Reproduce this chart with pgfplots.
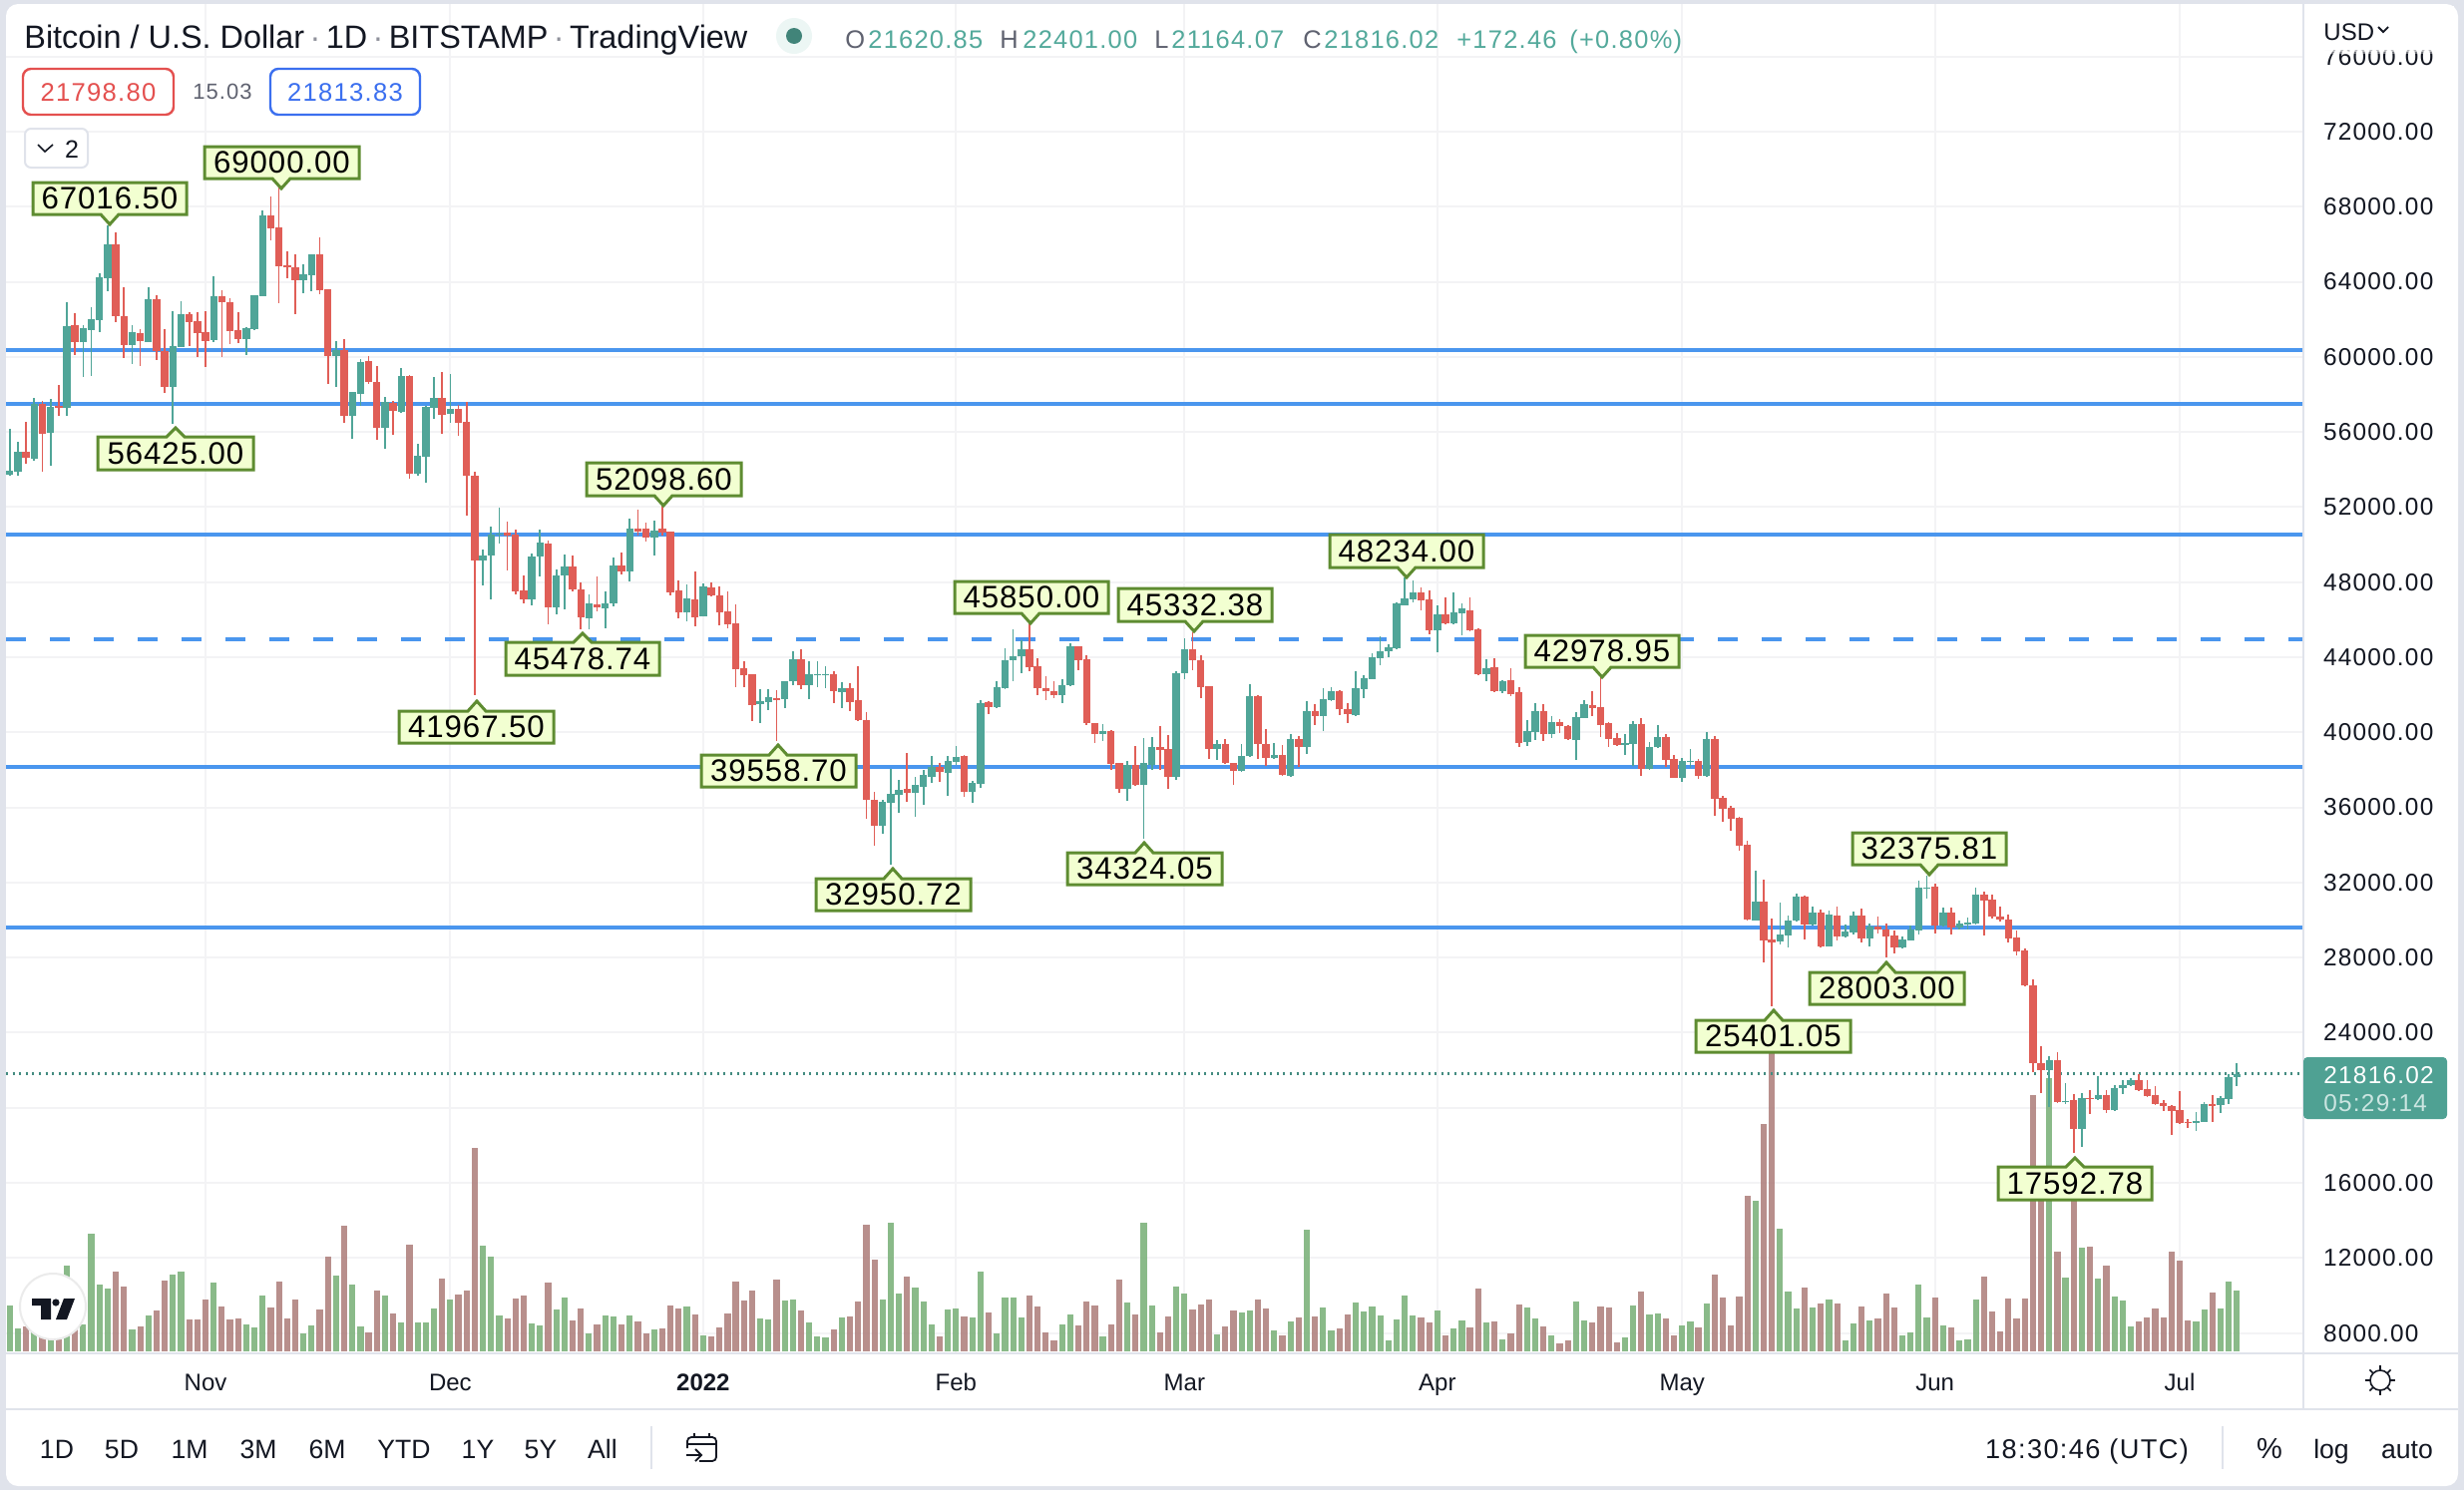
\documentclass[border=0pt]{standalone}
\usepackage{fontspec}
\setmainfont{Liberation Sans}
\newfontfamily\ls{Liberation Sans}[LetterSpace=5]
\newfontfamily\lsc{Liberation Sans}[LetterSpace=3]
\usepackage{pgfplots}
\usepackage{pgfplotstable}
\pgfplotsset{compat=1.18}
\definecolor{pagebg}{HTML}{E0E3EB}
\definecolor{gridc}{HTML}{F3F3F5}
\definecolor{lineg}{HTML}{E0E3EB}
\definecolor{up}{HTML}{50A598}
\definecolor{dn}{HTML}{E05E57}
\definecolor{volup}{HTML}{7EB37D}
\definecolor{voldn}{HTML}{B18380}
\definecolor{hline}{HTML}{4A96EE}
\definecolor{cbd}{HTML}{5E8C31}
\definecolor{cfill}{HTML}{F2FFD1}
\definecolor{ink}{HTML}{131722}
\definecolor{val}{HTML}{53A99B}
\definecolor{lett}{HTML}{5F6270}
\definecolor{bidr}{HTML}{E4504F}
\definecolor{askb}{HTML}{3B6FEF}
\pgfplotstableread{
n o h l c v
-24 53741 56167 53652 53936 138
-23 53900 55459 53688 54945 69
-21 54573 57814 54485 57495 65
-19 55954 57761 54219 57318 35
-17 57300 62932 56875 61640 258
-15 60772 61693 58948 61533 81
-14 61445 62631 59001 61994 354
-13 61976 64438 61338 64225 201
-12 64190 67016.5 63517 65996 189
-9 60648 61693 59621 61321 66
-7 60807 63694 60772 63074 108
-4 58416 62454 56425 60559 231
-3 60542 62950 60506 62277 240
1 60896 64278 60807 63215 207
5 60967 61569 60116 61516 81
6 61480 63286 61445 63286 72
7 63251 67803 63215 67537 168
12 64101 64934 63393 64402 54
13 64367 65465 63517 65465 78
16 60063 60860 58416 60382 228
18 56875 58150 55636 58115 201
19 58027 59886 57407 59709 75
22 56238 57849 55105 57584 168
24 57053 59391 57017 58983 87
26 53759 55370 53688 54715 87
27 54697 57371 53298 57336 87
28 57300 58912 56698 57814 129
30 56964 59089 56486 57230 156
34 49172 49738 47843 49402 318
35 49437 50943 47100 50553 285
36 50535 51970 50057 50588 108
40 47100 49526 46781 49366 84
41 49366 50801 48286 50110 78
43 46657 48676 46303 48357 126
44 48339 49473 46568 48835 162
47 46090 47348 45506 46869 54
49 46604 47489 45541 46869 108
50 46869 49313 46692 48871 105
52 48587 51385 48038 50854 108
55 50358 51297 49437 50748 66
59 46391 47879 45931 47135 135
61 46179 47932 46161 47773 48
68 41503 42300 40494 41645 99
69 41627 42300 41202 41857 96
71 41786 42743 41291 42707 153
72 42707 44337 42495 43894 156
74 42530 43770 41786 43097 87
75 43044 43806 42389 43097 45
76 43062 43504 42353 43097 42
78 42159 42672 41291 42336 102
83 35039 36420 34596 36297 156
84 36244 38067 32950.72 36722 387
85 36686 37483 35712 36916 174
87 36792 37607 35499 37200 192
88 37111 37979 36155 37713 150
89 37642 38723 37306 38138 81
91 37855 38723 36633 38457 126
92 38422 39254 38280 38687 129
94 36846 37395 36244 37324 102
95 37271 41716 37040 41556 240
97 41344 42707 41308 42389 54
98 42353 44478 42318 43841 162
99 43841 45488 42707 44036 162
100 44036 44921 43150 44425 102
105 42000 42814 41574 42513 81
106 42513 44726 42442 44602 111
110 39909 40441 39555 40086 45
113 37005 38457 36367 38262 147
115 37217 39697 34324.05 38351 387
116 38280 39732 38014 39201 138
119 37642 43239 37483 43150 195
120 43150 45010 42849 44425 174
124 39130 39608 38546 39378 51
127 37961 39378 37890 38740 117
128 38723 42566 38670 41928 123
131 38634 39431 38599 38794 63
133 37696 39909 37607 39644 90
135 39236 41680 38847 41114 366
137 40883 42353 40086 41751 132
138 41716 42389 41680 42212 63
141 40901 43274 40883 42353 147
142 42318 43026 41822 42885 120
143 42849 44213 42831 44000 135
144 43947 45098 43593 44301 108
145 44301 44709 43982 44532 33
146 44479 46922 44443 46869 96
147 46781 48234 46745 47135 168
148 47100 48109 46922 47454 108
151 45452 46781 44248 46267 123
153 45789 47454 45754 46391 69
154 46338 46869 45152 46586 93
157 43114 43893 42742 43415 87
159 42176 42795 42087 42742 36
162 39484 40653 39271 40068 132
163 40015 41556 39608 41131 99
165 39909 40847 39696 40529 48
168 39608 41060 38545 40812 150
169 40777 41697 40759 41503 93
174 39342 39909 38811 39431 42
175 39378 40582 38191 40458 138
177 38049 39484 38014 39218 111
178 39200 40405 39165 39749 114
181 37589 38634 37359 38456 78
182 38421 39112 38102 38492 90
184 37660 40015 37624 39643 144
190 29991 32648 29956 30983 453
193 28858 30929 28716 29212 369
194 29159 30222 28539 29991 180
195 29991 31408 29920 31249 129
197 29779 30700 29690 30381 132
199 28592 30487 28575 30275 156
201 29141 29779 29070 29389 33
202 29336 30451 29247 30239 84
204 29035 29814 28592 29637 93
208 28539 29105 28504 28964 48
209 28929 29690 28893 29495 57
210 29424 32116 29248 31727 201
211 31656 32375.81 31160 31727 102
213 29690 30664 29637 30398 78
215 29602 29956 29478 29814 33
216 29779 30133 29478 29867 36
217 29814 31727 29779 31337 156
226 22022 22748 20039 22536 822
228 20287 21314 20216 20375 222
230 18888 20783 17914 20499 312
232 20481 21686 20393 20676 219
234 19862 21190 19826 21048 165
235 21048 21491 20712 21225 153
236 21190 21580 21154 21473 75
244 19189 19773 18764 19295 90
245 19242 20304 19224 20198 126
247 20127 20606 19738 20535 129
248 20481 21810 20180 21633 210
249 21620.85 22401 21164.07 21816.02 183
}\upT
\pgfplotstableread{
n o h l c v
-22 54945 56521 54284 54626 75
-20 57495 57637 53900 55901 55
-18 57371 58505 56840 57300 35
-16 61675 62330 60099 60772 95
-11 65996 66634 61870 62188 240
-10 62170 63694 59957 60648 195
-8 61268 61480 59532 60860 75
-6 63074 63286 59851 60293 123
-5 60329 61480 58080 58416 213
-2 62277 62365 60595 61870 96
-1 61888 62401 60010 61268 96
0 61321 62454 59479 60860 156
2 63215 63552 60010 62897 135
3 62897 63127 60683 61392 96
4 61409 62365 60719 60949 99
8 67537 68564 66226 66864 132
9 66882 69000 62862 64845 210
10 64863 65642 64172 64792 99
11 64774 65465 62295 64101 156
14 65465 66368 63339 63570 126
15 63605 63605 58558 60063 285
17 60382 60949 56486 56875 378
20 59763 60063 58558 58647 57
21 58647 59532 55600 56238 183
23 57548 57672 55848 57106 114
25 58983 59036 53511 53759 321
29 57814 59213 55901 56928 219
31 57230 57442 55813 56504 171
32 56521 57619 51562 53688 183
33 53670 53865 41967.5 49172 612
37 50624 51208 48640 50464 99
38 50553 50801 47348 47524 159
39 47560 48375 46869 47100 168
42 50057 50234 45754 46674 207
45 48835 49437 47524 47613 93
46 47613 47967 45478.74 46143 129
48 46816 48304 46427 46674 81
51 48871 49561 48428 48587 81
53 50854 51864 50464 50712 90
54 50854 51173 50146 50376 54
56 50836 52098.6 50464 50642 69
57 50677 50713 47312 47472 138
58 47560 48109 46072 46391 129
60 47082 48552 45630 46143 111
62 47702 47985 47259 47312 45
63 47294 47755 45683 46391 72
64 46427 47524 45541 45771 114
65 45807 46816 42424 43380 210
66 43416 43770 42424 43062 153
67 43079 43097 40618 41468 183
70 41840 42247 39558.7 41733 216
73 43876 44425 42318 42530 123
77 43115 43239 41574 42212 66
79 42353 42619 41114 41609 105
80 41716 43540 40582 40653 150
81 40653 41078 35411 36420 381
82 36385 36810 33976 35039 276
86 36987 38900 36297 36775 225
90 38138 38368 37342 37890 45
93 38758 38811 36562 36846 105
96 41609 41645 40990 41344 117
101 44425 45850 43239 43469 168
102 43504 43947 42000 42371 135
103 42336 42973 41733 42212 57
104 42212 42743 41822 41981 33
107 44585 44602 43310 43841 78
108 43894 44124 40405 40494 150
109 40494 40494 39431 39909 138
111 40086 40139 38014 38333 81
112 38368 38368 36775 37005 216
114 38262 39254 37129 37217 111
117 39218 40334 38014 39077 57
118 39112 39839 37005 37642 105
121 44425 45332.38 43327 43858 126
122 43858 44124 41822 42424 141
123 42460 42477 38599 39130 156
125 39378 39661 38315 38368 75
126 38368 38368 37182 37961 123
129 41928 41999 38599 39396 156
130 39396 40193 38192 38634 129
132 38794 39307 37660 37731 48
134 39644 39821 38138 39236 102
136 41114 41503 40405 40883 105
139 42212 42265 40936 41220 69
140 41255 41556 40494 40972 111
149 47454 47702 46515 47029 102
150 47064 47578 45222 45452 87
152 46267 47188 45754 45789 48
155 46480 47170 45399 45452 72
156 45488 45541 43062 43115 189
158 43469 43947 42140 42211 90
160 42778 43415 41910 42052 54
161 42140 42388 39218 39431 141
164 41131 41520 39555 39909 75
166 40546 40706 39962 40334 24
167 40352 40405 39572 39643 33
170 41468 42175 40847 41290 87
171 41343 42978.95 39767 40405 135
172 40493 40546 39200 39661 132
173 39696 39962 39289 39342 27
176 40440 40759 37695 38049 180
179 39749 39909 38155 38545 99
180 38580 38775 37571 37571 48
183 38456 38598 37536 37677 72
185 39643 39785 35570 36473 231
186 36509 36597 35233 35942 162
187 35995 36066 34773 35410 78
188 35446 35517 33710 33976 165
189 34011 34206 29991 30044 468
191 30983 32134 27742 28893 684
192 28946 30080 25401.05 28822 965
196 31249 31284 28982 29779 192
198 30381 30576 28575 28592 144
200 30239 30700 28893 29141 144
203 30239 30611 28805 29035 135
205 29637 30186 29301 29478 99
206 29513 29814 28003 29141 174
207 29159 29424 28238 28539 132
212 31762 31939 29283 29726 162
214 30398 30664 29248 29602 72
218 31337 31514 29194 31054 225
219 31089 31373 30098 30168 120
220 30204 30700 29920 30009 60
221 30027 30310 28822 29035 159
222 29070 29424 28096 28326 99
223 28362 28486 26485 26538 159
224 26521 26822 21898 22394 771
225 22376 23262 20782 22022 505
227 22536 22961 20251 20304 300
229 20428 20712 17592.78 18888 485
231 20535 20924 19649 20464 315
233 20676 20924 19720 19897 258
237 21473 21810 20924 20960 90
238 20995 21456 20570 20623 102
239 20659 21172 20163 20198 129
240 20234 20393 19826 20074 102
241 20074 20127 18569 19826 300
242 19862 20889 19153 19189 273
243 19242 19419 18941 19171 93
246 20198 20676 19242 20092 177
}\dnT
\pgfplotsset{
  frame/.style={scale only axis,width=1151.5pt,height=676.5pt,at={(3pt,-678.5pt)},anchor=south west,
    xmin=-24.46,xmax=257.16,ymin=6916,ymax=78800},
  wick/.style={draw=none,mark=none,forget plot,
    error bars/.cd,y dir=both,y explicit,error mark=none,error bar style={line width=0.85pt,color=#1}},
  body/.style={draw=none,mark=none,forget plot,
    error bars/.cd,y dir=plus,y explicit,error mark=none,error bar style={line width=3.7pt,color=#1}},
}
\tikzset{
  cb/.style={draw=cbd,fill=cfill,line width=1.5pt,line join=miter},
  ct/.style={text=black,inner sep=0pt,font=\lsc\fontsize{15.6}{17}\selectfont},
  ui/.style={inner sep=0pt,anchor=base,text=ink,font=\fontsize{13.3}{16}\selectfont},
  hd/.style={inner sep=0pt,anchor=base west,font=\ls\fontsize{12.7}{15}\selectfont},
}
\newcommand{\calloutD}[7]{%
  \draw[cb] (#1,#3)--(#2,#3)--(#2,#4)--(#5+9,#4)--(#5,#6)--(#5-9,#4)--(#1,#4)--cycle;
  \node[ct] at ({(#1+#2)/2},{(#3+#4)/2}) {#7};}
\newcommand{\calloutU}[7]{%
  \draw[cb] (#1,#3)--(#5-9,#3)--(#5,#6)--(#5+9,#3)--(#2,#3)--(#2,#4)--(#1,#4)--cycle;
  \node[ct] at ({(#1+#2)/2},{(#3+#4)/2}) {#7};}
\begin{document}
\begin{tikzpicture}[x=0.5pt,y=-0.5pt]
\fill[pagebg] (0,0) rectangle (2470,1494);
\fill[white,rounded corners=6pt] (6,4) rectangle (2464,1490);
% grid and price scale
\begin{axis}[frame,
  axis line style={draw=none},
  major tick length=0pt,
  grid=major,grid style={gridc,line width=1pt},
  xtick={0,30,61,92,120,151,181,212,242},
  xticklabels={Nov,Dec,\textbf{2022},Feb,Mar,Apr,May,Jun,Jul},
  ytick={8000,12000,16000,24000,28000,32000,36000,40000,44000,48000,52000,56000,60000,64000,68000,72000,76000},
  extra y ticks={20000},extra y tick labels={},
  scaled y ticks=false,
  yticklabel pos=right,
  tick label style={inner sep=0pt,outer sep=0pt},
  xticklabel style={text=ink,font=\fontsize{12}{14}\selectfont,anchor=base,yshift=-18.6pt},
  yticklabel style={text=ink,anchor=west,xshift=10pt,font=\ls\fontsize{12.2}{14}\selectfont,
    /pgf/number format/fixed,/pgf/number format/fixed zerofill,/pgf/number format/precision=2,
    /pgf/number format/1000 sep={},/pgf/number format/assume math mode=true},
]
\addplot[draw=none,forget plot] coordinates {(0,20000)};
\end{axis}
% volume
\begin{axis}[frame,hide axis,ymin=-6,ymax=4053]
\addplot[ycomb,mark=none,voldn,line width=3.1pt,opacity=.9] table[x=n,y=v] {\dnT};
\addplot[ycomb,mark=none,volup,line width=3.1pt,opacity=.9] table[x=n,y=v] {\upT};
\end{axis}
% price
\begin{axis}[frame,hide axis]
\addplot[hline,line width=2pt,forget plot] coordinates {(-24.46,60364)(257.16,60364)};
\addplot[hline,line width=2pt,forget plot] coordinates {(-24.46,57513)(257.16,57513)};
\addplot[hline,line width=2pt,forget plot] coordinates {(-24.46,50535)(257.16,50535)};
\addplot[hline,line width=2pt,forget plot,dash pattern=on 10pt off 12pt] coordinates {(-24.46,44957)(257.16,44957)};
\addplot[hline,line width=2pt,forget plot] coordinates {(-24.46,38150)(257.16,38150)};
\addplot[hline,line width=2pt,forget plot] coordinates {(-24.46,29584)(257.16,29584)};
\addplot[black!15!up,line width=1.1pt,forget plot,dash pattern=on 1pt off 2.3pt] coordinates {(-24.46,21816.02)(257.16,21816.02)};
\addplot[wick=up] table[x=n,y=c,y error plus expr=\thisrow{h}-\thisrow{c},y error minus expr=\thisrow{c}-\thisrow{l}] {\upT};
\addplot[wick=dn] table[x=n,y=c,y error plus expr=\thisrow{h}-\thisrow{c},y error minus expr=\thisrow{c}-\thisrow{l}] {\dnT};
\addplot[body=up] table[x=n,y=o,y error plus expr=\thisrow{c}-\thisrow{o},y error minus expr=0] {\upT};
\addplot[body=dn] table[x=n,y=c,y error plus expr=\thisrow{o}-\thisrow{c},y error minus expr=0] {\dnT};
\end{axis}
% frame lines
\draw[lineg,line width=1.2pt] (6,1357)--(2464,1357);
\draw[lineg,line width=1.2pt] (6,1413)--(2464,1413);
\draw[lineg,line width=1.2pt] (2309,4)--(2309,1413);
% callouts
\calloutD{33}{187}{183}{215}{110}{225}{67016.50}
\calloutD{205}{360}{147}{179}{282}{189}{69000.00}
\calloutU{98}{254}{438}{471}{176}{429}{56425.00}
\calloutD{588}{743}{464}{497}{665}{507}{52098.60}
\calloutU{507}{661}{644}{677}{584}{635}{45478.74}
\calloutU{400}{555}{713}{745}{478}{703}{41967.50}
\calloutU{703}{858}{757}{789}{780}{747}{39558.70}
\calloutU{818}{973}{881}{913}{895}{871}{32950.72}
\calloutD{957}{1111}{583}{615}{1033}{625}{45850.00}
\calloutD{1121}{1275}{590}{623}{1197}{633}{45332.38}
\calloutU{1070}{1225}{855}{887}{1147}{845}{34324.05}
\calloutD{1333}{1487}{536}{569}{1410}{579}{48234.00}
\calloutD{1529}{1683}{637}{669}{1606}{679}{42978.95}
\calloutD{1857}{2011}{835}{867}{1934}{877}{32375.81}
\calloutU{1814}{1969}{975}{1007}{1891}{965}{28003.00}
\calloutU{1700}{1855}{1023}{1055}{1778}{1013}{25401.05}
\calloutU{2003}{2157}{1170}{1203}{2080}{1161}{17592.78}
% last price tag
\fill[val!95!black,rounded corners=2pt] (2309,1060) rectangle (2453,1122);
\node[hd,text=white,font=\ls\fontsize{12.2}{14}\selectfont] at (2329,1086) {21816.02};
\node[hd,text=white!70!val,font=\ls\fontsize{12.2}{14}\selectfont] at (2329,1114) {05:29:14};
% cover over the faded top tick
\fill[white] (2312,6) rectangle (2460,50);
\fill[white,opacity=.7] (2312,50) rectangle (2460,52);
\fill[white,opacity=.4] (2312,52) rectangle (2460,54);
\node[hd,text=ink,font=\fontsize{12}{14}\selectfont] at (2329,40.5) {USD};
\draw[ink,line width=.9pt] (2384,27)--(2389,32)--(2394,27);
% header
\node[anchor=base west,inner sep=0pt,text=ink,font=\fontsize{16.2}{19}\selectfont] at (24,48)
  {Bitcoin / U.S. Dollar\,\textcolor{lett!70}{·}\,1D\,\textcolor{lett!70}{·}\,BITSTAMP\,\textcolor{lett!70}{·}\,TradingView};
\fill[fill=white!89!val] (796,36) circle[radius=18];
\fill[fill=black!22!val] (796,36) circle[radius=8];
\node[hd,text=lett] at (847,48) {O};
\node[hd,text=val] at (870,48) {21620.85};
\node[hd,text=lett] at (1002,48) {H};
\node[hd,text=val] at (1025,48) {22401.00};
\node[hd,text=lett] at (1157,48) {L};
\node[hd,text=val] at (1174,48) {21164.07};
\node[hd,text=lett] at (1306,48) {C};
\node[hd,text=val] at (1327,48) {21816.02};
\node[hd,text=val] at (1460,48) {+172.46};
\node[hd,text=val] at (1573,48) {(+0.80\%)};
\draw[draw=bidr,fill=white,line width=1.2pt,rounded corners=4pt] (23,69) rectangle (174,115);
\node[inner sep=0pt,text=bidr,font=\ls\fontsize{12.8}{15}\selectfont] at (98.5,93) {21798.80};
\node[inner sep=0pt,text=lett,font=\ls\fontsize{11}{13}\selectfont] at (223,92) {15.03};
\draw[draw=askb,fill=white,line width=1.2pt,rounded corners=4pt] (271,69) rectangle (421,115);
\node[inner sep=0pt,text=askb,font=\ls\fontsize{12.8}{15}\selectfont] at (346,93) {21813.83};
\draw[draw=lineg,fill=white,line width=1pt,rounded corners=3pt] (25,129) rectangle (88,168);
\draw[ink,line width=.8pt] (38,145)--(45,152)--(53,145);
\node[inner sep=0pt,text=ink,font=\fontsize{12.5}{15}\selectfont] at (72,150) {2};
% tv logo
\draw[draw=black!8,fill=white,line width=1pt] (53,1310) circle[radius=33];
\fill[ink] (32,1302)--(51,1302)--(51,1323)--(41,1323)--(41,1309)--(32,1309)--cycle;
\fill[ink] (56,1306) circle[radius=3.6];
\fill[ink] (64,1302)--(75,1302)--(67,1323)--(56,1323)--cycle;
% toolbar
\node[ui] at (57,1462.5) {1D};
\node[ui] at (122,1462.5) {5D};
\node[ui] at (190,1462.5) {1M};
\node[ui] at (259,1462.5) {3M};
\node[ui] at (328,1462.5) {6M};
\node[ui] at (405,1462.5) {YTD};
\node[ui] at (479,1462.5) {1Y};
\node[ui] at (542,1462.5) {5Y};
\node[ui] at (604,1462.5) {All};
\draw[lineg,line width=1pt] (653,1430)--(653,1473);
\draw[ink,line width=.9pt,rounded corners=2pt] (689,1452)--(689,1441)--(718,1441)--(718,1465)--(701,1465);
\draw[ink,line width=.9pt] (689,1448)--(718,1448) (696,1437)--(696,1441) (711,1437)--(711,1441);
\draw[ink,line width=.9pt] (688,1459)--(703,1459) (697,1453)--(703,1459)--(697,1465);
\node[ui,font=\ls\fontsize{13.6}{16}\selectfont] at (2092,1462.5) {18:30:46 (UTC)};
\draw[lineg,line width=1pt] (2228,1430)--(2228,1473);
\node[ui,font=\fontsize{14.5}{16}\selectfont] at (2275,1462.5) {\%};
\node[ui] at (2337,1462.5) {log};
\node[ui] at (2413,1462.5) {auto};
% settings icon
\draw[ink,line width=.8pt] (2386,1384) circle[radius=10];
\foreach \a in {0,45,...,315}{\draw[ink,line width=.8pt] (2386,1384) ++(\a:5pt) -- ++(\a:2.5pt);}
\end{tikzpicture}
\end{document}
